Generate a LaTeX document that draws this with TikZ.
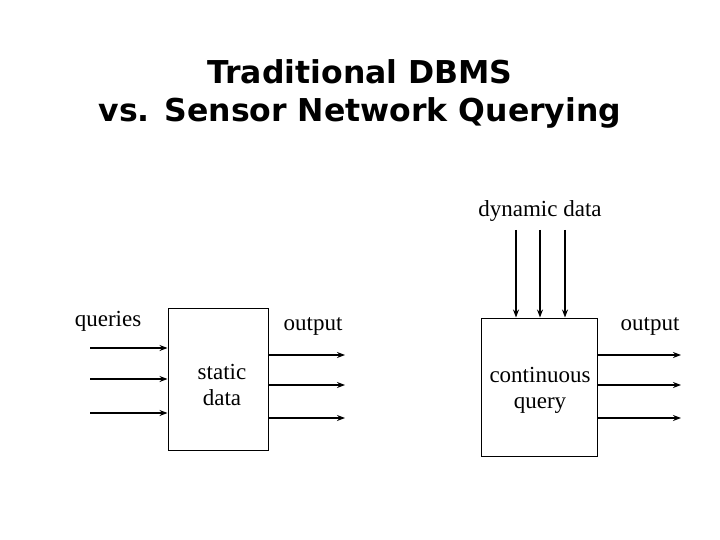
\documentclass[tikz,border=0pt]{standalone}
\usepackage{fontspec}
\setmainfont{Liberation Serif}
\newfontfamily\titlefont{DejaVu Sans}
\usetikzlibrary{arrows.meta}
\begin{document}
\begin{tikzpicture}[x=1pt,y=-1pt,
    lbl/.style={font=\fontsize{23}{26}\selectfont, align=center, inner sep=0pt},
    arr/.style={-{Stealth[length=8pt,width=6pt]}, line width=1.5pt}]
\useasboundingbox (0,0) rectangle (720,540);
\node[font=\titlefont\bfseries\fontsize{31.5}{38}\selectfont, align=center] (title) at (360,94)
  {Traditional DBMS\\vs. Sensor Network Querying};
% left box
\node[draw, line width=1pt, minimum width=100pt, minimum height=142pt, inner sep=0pt] (b1) at (218,379) {};
\node[lbl] (sd) at (222,385) {static\\data};
\node[lbl] (q) at (108,321) {queries};
\node[lbl] (o1) at (313,326) {output};
\foreach \y [count=\i] in {348,379,413} {
  \coordinate (qi\i) at (90,\y);
  \draw[arr] (qi\i) -- (qi\i -| b1.west);
}
\foreach \y [count=\i] in {355,385,418} {
  \coordinate (oa\i) at (345,\y);
  \draw[arr] (oa\i -| b1.east) -- (oa\i);
}
% right box
\node[draw, line width=1pt, minimum width=116pt, minimum height=138pt, inner sep=0pt] (b2) at (539,387) {};
\node[lbl] (cq) at (540,390) {continuous\\query};
\node[lbl] (dd) at (540,211) {dynamic data};
\node[lbl] (o2) at (650,326) {output};
\foreach \x [count=\i] in {516,540,565} {
  \coordinate (di\i) at (\x,230);
  \draw[arr] (di\i) -- (di\i |- b2.north);
}
\foreach \y [count=\i] in {355,385,418} {
  \coordinate (ob\i) at (681,\y);
  \draw[arr] (ob\i -| b2.east) -- (ob\i);
}
\end{tikzpicture}
\end{document}
